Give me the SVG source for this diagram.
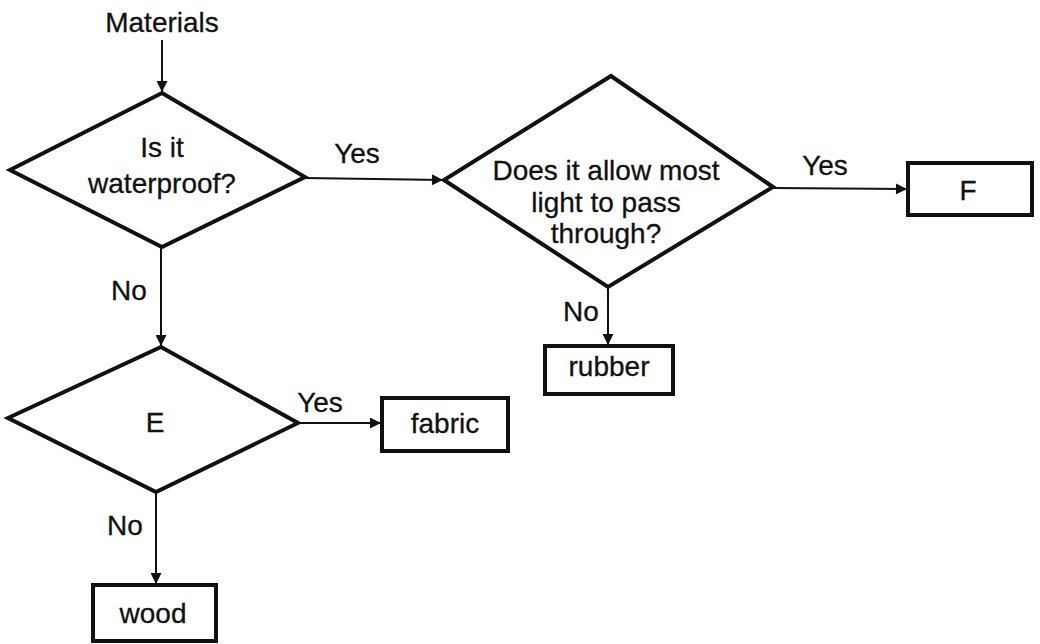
<svg xmlns="http://www.w3.org/2000/svg" width="1040" height="644" viewBox="0 0 1040 644">
<style>
.shape{fill:#fff;stroke:#111;stroke-width:4;stroke-linejoin:miter}
.conn{fill:none;stroke:#111;stroke-width:2}
text{font-family:"Liberation Sans",Arial,sans-serif;font-size:28px;fill:#111;stroke:#111;stroke-width:0.3;text-anchor:middle}
</style>
<defs>
<marker id="arr" viewBox="0 0 10 10" refX="10" refY="5" markerWidth="14" markerHeight="11" markerUnits="userSpaceOnUse" orient="auto">
<path d="M0,0 L10,5 L0,10 Z" fill="#111"/>
</marker>
</defs>
<rect width="1040" height="644" fill="#fff"/>
<g id="connectors">
<line class="conn" x1="162" y1="40" x2="162" y2="92" marker-end="url(#arr)"/>
<line class="conn" x1="305" y1="178" x2="443" y2="180" marker-end="url(#arr)"/>
<line class="conn" x1="773" y1="188" x2="907" y2="189" marker-end="url(#arr)"/>
<line class="conn" x1="608" y1="287" x2="608" y2="345" marker-end="url(#arr)"/>
<line class="conn" x1="161" y1="247" x2="161" y2="346" marker-end="url(#arr)"/>
<line class="conn" x1="298" y1="423" x2="381" y2="423" marker-end="url(#arr)"/>
<line class="conn" x1="156" y1="492" x2="156" y2="584" marker-end="url(#arr)"/>
<text x="129" y="300">No</text>
<text x="357" y="163">Yes</text>
<text x="825" y="175">Yes</text>
<text x="581" y="321">No</text>
<text x="320" y="412">Yes</text>
<text x="125" y="535">No</text>
</g>
<g id="start">
<text x="162" y="32">Materials</text>
</g>
<g id="waterproof">
<polygon class="shape" points="162,93 305,177 162,247 10,170"/>
<text x="162" y="157">Is it</text>
<text x="162" y="193">waterproof?</text>
</g>
<g id="light">
<polygon class="shape" points="611,76 773,187 608,287 444,180"/>
<text x="606" y="180">Does it allow most</text>
<text x="606" y="212">light to pass</text>
<text x="606" y="243">through?</text>
</g>
<g id="F">
<rect class="shape" x="908" y="163" width="124" height="52"/>
<text x="968" y="200">F</text>
</g>
<g id="rubber">
<rect class="shape" x="545" y="346" width="128" height="48"/>
<text x="609" y="376">rubber</text>
</g>
<g id="E">
<polygon class="shape" points="161,347 298,423 156,492 8,418"/>
<text x="155" y="432">E</text>
</g>
<g id="fabric">
<rect class="shape" x="382" y="398" width="126" height="53"/>
<text x="445" y="433">fabric</text>
</g>
<g id="wood">
<rect class="shape" x="93" y="585" width="123" height="56"/>
<text x="153" y="623">wood</text>
</g>
</svg>
